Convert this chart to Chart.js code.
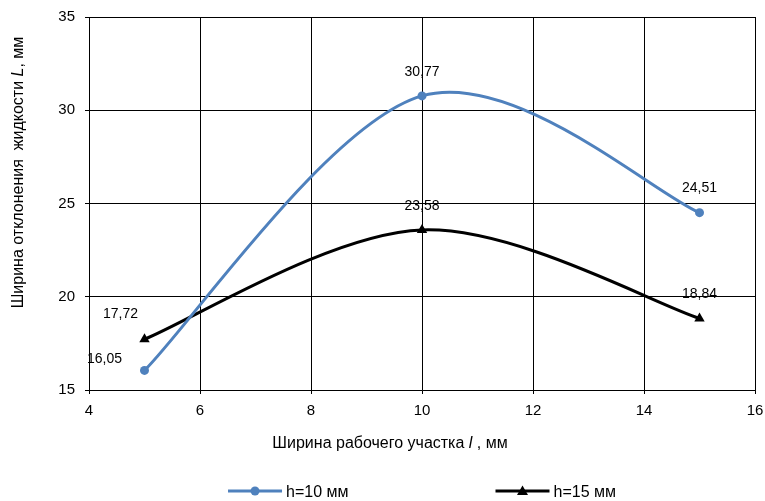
<!DOCTYPE html>
<html>
<head>
<meta charset="utf-8">
<script src="https://cdn.jsdelivr.net/npm/chart.js@4.4.0/dist/chart.umd.min.js"></script>
<style>
  html, body { margin: 0; padding: 0; background: #fff; }
  #wrap { width: 765px; height: 501px; }
</style>
</head>
<body>
<div id="wrap"><canvas id="chartOtklonenie" width="765" height="501"></canvas></div>
<script>
// данные с графика
const shirina = [5, 10, 15]
const h10 = [16.05, 30.77, 24.51]
const h15 = [17.72, 23.58, 18.84]
const nazvaniya = ['h=10 мм', 'h=15 мм']
const xTicks = [4, 6, 8, 10, 12, 14, 16]
const yTicks = [15, 20, 25, 30, 35]

const FONT = '"Liberation Sans", Arial, sans-serif'
const BLUE = '#4f81bd'

const toPoints = (vals) => vals.map((v, i) => ({ x: shirina[i], y: v }))

// сглаживание как в Excel (Catmull-Rom, 1/6)
const sglazhivanie = {
  id: 'sglazhivanie',
  beforeDatasetDraw(chart, args) {
    const line = args.meta.dataset
    if (!line) return
    line.updateControlPoints(chart.chartArea, 'x')
    const pts = args.meta.data
    pts.forEach((p, i) => {
      const prev = pts[Math.max(i - 1, 0)]
      const next = pts[Math.min(i + 1, pts.length - 1)]
      const dx = (next.x - prev.x) / 6
      const dy = (next.y - prev.y) / 6
      p.cp1x = p.x - dx; p.cp1y = p.y - dy
      p.cp2x = p.x + dx; p.cp2y = p.y + dy
    })
    line._path = undefined
  }
}

// подписи значений над точками
const sdvig = { '0-0': [-40, -11], '1-0': [-24, -25] }
const podpisi = {
  id: 'podpisi',
  afterDatasetsDraw(chart) {
    const ctx = chart.ctx
    ctx.save()
    ctx.font = '14px ' + FONT
    ctx.fillStyle = '#000'
    ctx.textAlign = 'center'
    ctx.textBaseline = 'middle'
    chart.data.datasets.forEach((ds, i) => {
      chart.getDatasetMeta(i).data.forEach((pt, j) => {
        const off = sdvig[i + '-' + j] || [0, -24]
        ctx.fillText(ds.data[j].y.toFixed(2).replace('.', ','), pt.x + off[0], pt.y + off[1])
      })
    })
    ctx.restore()
  }
}

// текст с курсивной буквой
function mixedText(ctx, parts, cx, cy) {
  let total = 0
  parts.forEach(p => { ctx.font = (p[1] ? 'italic ' : '') + '16px ' + FONT; total += ctx.measureText(p[0]).width })
  let x = cx - total / 2
  parts.forEach(p => {
    ctx.font = (p[1] ? 'italic ' : '') + '16px ' + FONT
    ctx.fillText(p[0], x, cy)
    x += ctx.measureText(p[0]).width
  })
}

const oformlenie = {
  id: 'oformlenie',
  afterDraw(chart) {
    const ctx = chart.ctx
    const a = chart.chartArea
    ctx.save()
    ctx.fillStyle = '#000'
    ctx.textAlign = 'left'
    ctx.textBaseline = 'middle'
    // подпись оси X
    mixedText(ctx, [['Ширина рабочего участка ', false], ['l', true], [' , мм', false]],
      a.left + (a.right - a.left) * 0.452, 444)
    // подпись оси Y
    ctx.save()
    ctx.translate(19, (a.top + a.bottom) / 2 - 31)
    ctx.rotate(-Math.PI / 2)
    mixedText(ctx, [['Ширина отклонения  жидкости ', false], ['L', true], [', мм', false]], 0, 0)
    ctx.restore()
    // легенда
    ctx.font = '16px ' + FONT
    const lineLen = 54, gap = 4, itemGap = 147
    const widths = nazvaniya.map(n => ctx.measureText(n).width)
    const total = widths.reduce((s, w) => s + lineLen + gap + w, 0) + itemGap
    let x = (a.left + a.right) / 2 - total / 2
    const y = 491
    chart.data.datasets.forEach((ds, i) => {
      ctx.strokeStyle = ds.borderColor
      ctx.fillStyle = ds.borderColor
      ctx.lineWidth = 3
      ctx.beginPath(); ctx.moveTo(x, y); ctx.lineTo(x + lineLen, y); ctx.stroke()
      const mx = x + lineLen / 2
      ctx.beginPath()
      if (ds.pointStyle === 'triangle') {
        ctx.moveTo(mx, y - 5.5); ctx.lineTo(mx + 5.5, y + 4); ctx.lineTo(mx - 5.5, y + 4); ctx.closePath()
      } else {
        ctx.arc(mx, y, 4.5, 0, Math.PI * 2)
      }
      ctx.fill()
      ctx.fillStyle = '#000'
      ctx.fillText(nazvaniya[i], x + lineLen + gap, y + 2)
      x += lineLen + gap + widths[i] + itemGap
    })
    ctx.restore()
  }
}

const graphic = document.getElementById('chartOtklonenie')
const chartOtklonenie = new Chart(graphic, {
  type: 'line',
  data: {
    datasets: [{
      label: nazvaniya[0],
      data: toPoints(h10),
      borderColor: BLUE,
      backgroundColor: BLUE,
      borderWidth: 3,
      pointStyle: 'circle',
      pointRadius: 4.5,
      pointBorderWidth: 0,
      tension: 0.3
    }, {
      label: nazvaniya[1],
      data: toPoints(h15),
      borderColor: '#000',
      backgroundColor: '#000',
      borderWidth: 3,
      pointStyle: 'triangle',
      pointRadius: 6,
      pointBorderWidth: 0,
      tension: 0.3
    }]
  },
  options: {
    responsive: false,
    animation: false,
    devicePixelRatio: 1,
    layout: { padding: { left: 0, right: 10, top: 17, bottom: 0 } },
    plugins: {
      legend: { display: false },
      tooltip: { enabled: false }
    },
    scales: {
      x: {
        type: 'linear',
        min: 4,
        max: 16,
        afterBuildTicks: s => { s.ticks = xTicks.map(v => ({ value: v })) },
        afterFit: s => { s.height = 111; s.paddingLeft = 0; s.paddingRight = 0 },
        grid: { color: '#000', lineWidth: 1, tickLength: 4, tickColor: '#000' },
        border: { color: '#000', width: 1 },
        ticks: { color: '#000', padding: 8, font: { family: FONT, size: 15 }, maxRotation: 0 }
      },
      y: {
        min: 15,
        max: 35,
        afterBuildTicks: s => { s.ticks = yTicks.map(v => ({ value: v })) },
        afterFit: s => { s.width = 89; s.paddingTop = 0; s.paddingBottom = 0 },
        grid: { color: '#000', lineWidth: 1, tickLength: 4, tickColor: '#000' },
        border: { color: '#000', width: 1 },
        ticks: { color: '#000', padding: 10, font: { family: FONT, size: 15 } }
      }
    }
  },
  plugins: [sglazhivanie, podpisi, oformlenie]
})
</script>
</body>
</html>
